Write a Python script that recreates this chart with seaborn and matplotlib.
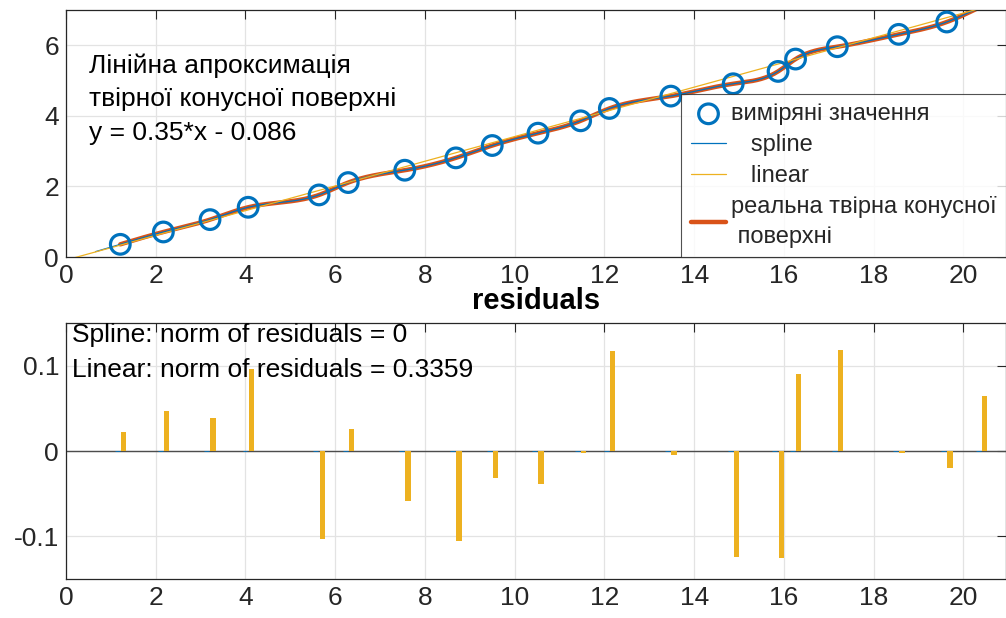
import numpy as np
import pandas as pd
import matplotlib
matplotlib.use('Agg')
import matplotlib.pyplot as plt
import seaborn as sns


x_meas = [1.21, 2.17, 3.21, 4.06, 5.64, 6.29, 7.55, 8.69, 9.50, 10.52,
          11.47, 12.11, 13.48, 14.87, 15.87, 16.26, 17.19, 18.56, 19.63, 20.40]
y_meas = [0.36, 0.71, 1.06, 1.41, 1.76, 2.11, 2.46, 2.81, 3.16, 3.51,
          3.86, 4.21, 4.56, 4.91, 5.26, 5.61, 5.96, 6.31, 6.66, 7.10]

# linear fit coefficients y = k*x + b
k_fit = 0.35
b_fit = -0.086

# residuals of the linear fit (spline residuals are all zero)
res_linear = [0.022, 0.047, 0.039, 0.096, -0.103, 0.026, -0.058, -0.106, -0.032, -0.039,
              -0.002, 0.117, -0.005, -0.124, -0.125, 0.090, 0.118, -0.002, -0.020, 0.064]
res_spline = [0.0] * len(x_meas)

x_ticks = [0, 2, 4, 6, 8, 10, 12, 14, 16, 18, 20]
y_ticks_top = [0, 2, 4, 6]
y_ticks_bot = [-0.1, 0, 0.1]
y_ticklabels_bot = ['-0.1', '0', '0.1']

BLUE = '#0072BD'
ORANGE = '#D95319'
YELLOW = '#EDB120'
INK = '#262626'


def natural_spline(x, y, xs):
    x = np.asarray(x, float)
    y = np.asarray(y, float)
    n = len(x)
    h = np.diff(x)
    A = np.zeros((n, n))
    r = np.zeros(n)
    A[0, 0] = A[-1, -1] = 1
    for i in range(1, n - 1):
        A[i, i - 1] = h[i - 1]
        A[i, i] = 2 * (h[i - 1] + h[i])
        A[i, i + 1] = h[i]
        r[i] = 3 * ((y[i + 1] - y[i]) / h[i] - (y[i] - y[i - 1]) / h[i - 1])
    c = np.linalg.solve(A, r)
    b = (y[1:] - y[:-1]) / h - h * (2 * c[:-1] + c[1:]) / 3
    d = (c[1:] - c[:-1]) / (3 * h)
    idx = np.clip(np.searchsorted(x, xs) - 1, 0, n - 2)
    dx = xs - x[idx]
    return y[idx] + b[idx] * dx + c[idx] * dx ** 2 + d[idx] * dx ** 3


sns.set_style('white')
plt.rcParams['font.family'] = ['Liberation Sans', 'DejaVu Sans']
plt.rcParams['axes.unicode_minus'] = False

fig = plt.figure(figsize=(10.06, 6.18), dpi=100)
ax1 = fig.add_axes([0.0656, 0.5841, 0.9344, 0.3997])
ax2 = fig.add_axes([0.0656, 0.0631, 0.9344, 0.4142])

# ---- top: data and approximations ----
xm = np.array(x_meas)
ym = np.array(y_meas)

xs_spline = np.linspace(xm[0] - 0.55, xm[-1], 400)
xs_real = np.linspace(xm[0], xm[-1], 400)
xs_lin = np.array([0.0, 21.0])

sns.lineplot(x=xs_real, y=natural_spline(xm, ym, xs_real), ax=ax1, color=ORANGE,
             lw=3.2, sort=False, estimator=None, zorder=2,
             label='реальна твірна конусної\n поверхні')
sns.lineplot(x=xs_spline, y=natural_spline(xm, ym, xs_spline), ax=ax1, color=BLUE,
             lw=0.9, sort=False, estimator=None, zorder=3, label='   spline')
sns.lineplot(x=xs_lin, y=k_fit * xs_lin + b_fit, ax=ax1, color=YELLOW,
             lw=0.9, sort=False, estimator=None, zorder=3, label='   linear')

shown = ym <= 7.0
sns.scatterplot(x=xm[shown], y=ym[shown], ax=ax1, marker='o', s=200, zorder=4,
                label='виміряні значення')
pts = ax1.collections[-1]
pts.set_facecolor('none')
pts.set_edgecolor(BLUE)
pts.set_linewidth(2.3)

ax1.set_xlim(0, 20.95)
ax1.set_ylim(0, 7)
ax1.set_xticks(x_ticks)
ax1.set_yticks(y_ticks_top)

ax1.text(0.025, 0.825, 'Лінійна апроксимація\nтвірної конусної поверхні\ny = 0.35*x - 0.086',
         transform=ax1.transAxes, ha='left', va='top', fontsize=19, color='black',
         linespacing=1.5)

h, l = ax1.get_legend_handles_labels()
order = [l.index('виміряні значення'), l.index('   spline'), l.index('   linear'),
         l.index('реальна твірна конусної\n поверхні')]
leg = ax1.legend([h[i] for i in order], [l[i] for i in order], loc='lower right',
                 bbox_to_anchor=(1.0, 0.0), borderaxespad=0.0, fontsize=17,
                 frameon=True, fancybox=False, handlelength=1.5, handletextpad=0.2,
                 labelspacing=0.38, borderpad=0.4)
for t in leg.get_texts():
    t.set_linespacing(1.45)
leg.get_frame().set_edgecolor(INK)
leg.get_frame().set_linewidth(0.8)
leg.set_zorder(10)

# ---- bottom: residuals ----
xr = np.array(x_meas)
ax2.axhline(0, color='#4d4d4d', lw=1.0, zorder=1)
ax2.bar(xr - 0.07, res_spline, width=0.11, color=BLUE, edgecolor=BLUE, lw=0.6, zorder=2)
ax2.bar(xr + 0.07, res_linear, width=0.12, color=YELLOW, edgecolor=YELLOW, lw=0.0, zorder=2)

ax2.set_xlim(0, 20.95)
ax2.set_ylim(-0.15, 0.15)
ax2.set_xticks(x_ticks)
ax2.set_yticks(y_ticks_bot)
ax2.set_yticklabels(y_ticklabels_bot)
ax2.set_title('residuals', fontsize=21, fontweight='bold', pad=10, color='black')

ax2.text(0.006, 1.0, 'Spline: norm of residuals = 0\nLinear: norm of residuals = 0.3359',
         transform=ax2.transAxes, ha='left', va='top', fontsize=19, color='black',
         linespacing=1.6, zorder=5)

for ax in (ax1, ax2):
    ax.grid(True, color='#e3e3e3', lw=0.9)
    ax.set_axisbelow(True)
    ax.tick_params(direction='in', top=True, right=True, length=6.5, width=0.8,
                   labelsize=19, colors=INK, labelcolor='#262626', pad=5)
    for sp in ax.spines.values():
        sp.set_visible(True)
        sp.set_color(INK)
        sp.set_linewidth(0.9)
    ax.set_xlabel('')
    ax.set_ylabel('')

fig.savefig('out.png', dpi=100)
